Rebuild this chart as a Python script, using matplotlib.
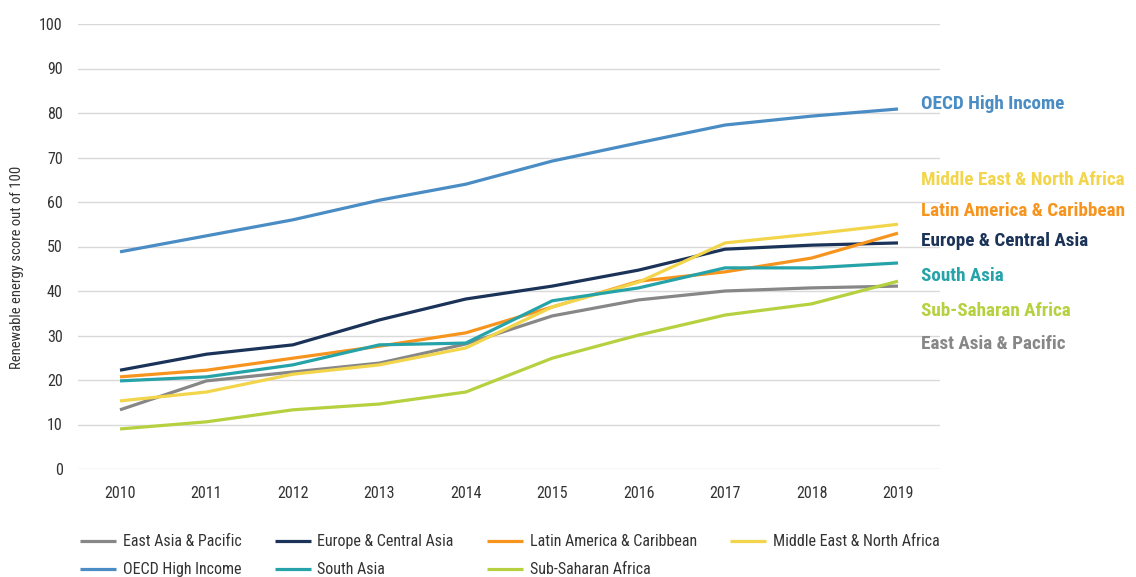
import matplotlib
matplotlib.use("Agg")
import matplotlib.pyplot as plt
from matplotlib import font_manager

years = [2010, 2011, 2012, 2013, 2014, 2015, 2016, 2017, 2018, 2019]

east_asia = [13.3, 19.8, 21.8, 23.8, 28.1, 34.4, 38.0, 40.0, 40.7, 41.1]
europe = [22.2, 25.8, 27.9, 33.5, 38.2, 41.1, 44.7, 49.4, 50.3, 50.8]
latin = [20.7, 22.2, 24.9, 27.6, 30.6, 36.4, 42.2, 44.3, 47.4, 53.0]
mena = [15.3, 17.3, 21.3, 23.4, 27.2, 36.4, 42.0, 50.8, 52.8, 55.0]
oecd = [48.8, 52.4, 56.0, 60.4, 64.0, 69.2, 73.3, 77.3, 79.3, 80.9]
south_asia = [19.8, 20.7, 23.4, 27.9, 28.3, 37.8, 40.7, 45.2, 45.2, 46.3]
ssa = [9.0, 10.6, 13.3, 14.6, 17.3, 24.9, 30.1, 34.6, 37.1, 42.2]

series_names = ["East Asia & Pacific", "Europe & Central Asia", "Latin America & Caribbean",
                "Middle East & North Africa", "OECD High Income", "South Asia", "Sub-Saharan Africa"]
series_values = [east_asia, europe, latin, mena, oecd, south_asia, ssa]
colors = ["#878787", "#1B3358", "#F7941D", "#F2D54A", "#4A8CC4", "#26A3A8", "#B5D13F"]

# right-hand labels and their y-positions (data units)
label_names = ["OECD High Income", "Middle East & North Africa", "Latin America & Caribbean",
               "Europe & Central Asia", "South Asia", "Sub-Saharan Africa", "East Asia & Pacific"]
label_y = [82.0, 65.0, 57.9, 51.3, 43.3, 35.6, 28.2]

names = {f.name for f in font_manager.fontManager.ttflist}
narrow = None
for cand in ["Liberation Sans Narrow", "Roboto Condensed", "Open Sans Condensed", "DejaVu Sans Condensed"]:
    if cand in names:
        narrow = cand
        break
if narrow is None:
    narrow = "Roboto"
plt.rcParams['font.family'] = [narrow, 'DejaVu Sans']

fig = plt.figure(figsize=(11.36, 5.77), dpi=100)
ax = fig.add_axes([78/1136, 1-469/577, (940-78)/1136, (469-24)/577])

handles = []
for name, vals, c in zip(series_names, series_values, colors):
    h, = ax.plot(years, vals, color=c, lw=2.3, label=name, solid_capstyle='butt')
    handles.append(h)

ax.set_xlim(2009.514, 2019.486)
ax.set_ylim(0, 100)
ax.set_yticks(range(0, 101, 10))
ax.set_xticks(years)
ax.grid(axis='y', color='#d9d9d9', lw=1)
ax.set_axisbelow(True)
for s in ax.spines.values():
    s.set_visible(False)
ax.tick_params(axis='both', length=0, labelsize=11.5, labelcolor='#333333')
ax.tick_params(axis='x', pad=12)
ax.tick_params(axis='y', pad=11)
ax.set_ylabel("Renewable energy score out of 100", fontsize=10.5, color='#333333')
ax.yaxis.set_label_coords(-0.0626, 0.452)

cmap = dict(zip(series_names, colors))
for name, y in zip(label_names, label_y):
    ax.text(2019.27, y, name, color=cmap[name], fontsize=13.8, fontweight='bold',
            va='center', ha='left', clip_on=False)

# legend filled row-wise like the reference
order = [0, 4, 1, 5, 2, 6, 3]
leg = fig.legend([handles[i] for i in order], [series_names[i] for i in order],
                 loc='upper left', bbox_to_anchor=(66/1136, 1-520/577), ncol=4, frameon=False,
                 fontsize=11.5, handlelength=2.25, columnspacing=2.1, labelspacing=0.8,
                 handletextpad=0.4)
for t in leg.get_texts():
    t.set_color('#333333')

fig.savefig("out.png", dpi=100)
